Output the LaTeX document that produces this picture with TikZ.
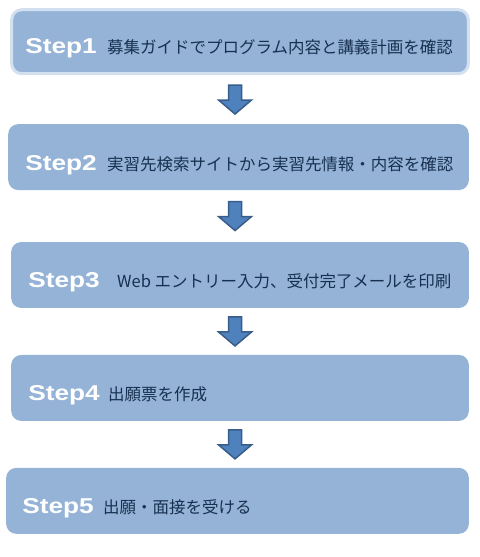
\documentclass[tikz,border=0pt]{standalone}
\usepackage{fontspec}
\usepackage{tikz}
\usepackage{xcolor}
\usetikzlibrary{calc}
\usetikzlibrary{positioning}

\setmainfont{Liberation Sans}
\newfontfamily\jpfont{Noto Sans CJK JP}
\newfontfamily\stepfont{Liberation Sans}[FakeStretch=1.22]

\definecolor{boxblue}{HTML}{95B3D7}
\definecolor{glowblue}{HTML}{D3E0F0}
\definecolor{arrowblue}{HTML}{4F81BD}
\definecolor{arrowedge}{HTML}{385D8A}
\definecolor{textnavy}{HTML}{17304F}

\tikzset{
  stepbox/.style={fill=boxblue, rounded corners=10pt, minimum height=66pt, inner sep=0pt},
  steptitle/.style={anchor=base west, inner sep=0pt, text=white, font=\stepfont\bfseries\fontsize{21.5}{21.5}\selectfont},
  steptext/.style={inner sep=0pt, text=textnavy, font=\jpfont\fontsize{16.5}{16.5}\selectfont},
  downarrow/.style={fill=arrowblue, draw=arrowedge, line width=1.5pt, line join=miter}
}

\begin{document}
\begin{tikzpicture}[x=1pt,y=-1pt]
\draw[opacity=0] (0,0) rectangle (479,557);

\node[stepbox, draw=glowblue, line width=3pt, minimum width=457pt, minimum height=64pt] (s1) at (240,41.5) {};
\node[stepbox, minimum width=461pt] (s2) at (238.5,157) {};
\node[stepbox, minimum width=458pt] (s3) at (240,275) {};
\node[stepbox, minimum width=458pt] (s4) at (240,388) {};
\node[stepbox, minimum width=463pt] (s5) at (237.5,501) {};

\node[steptitle] (t1) at (25,53) {Step1};
\node[steptitle] (t2) at (25,170) {Step2};
\node[steptitle] (t3) at (28,288) {Step3};
\node[steptitle] (t4) at (28,401) {Step4};
\node[steptitle] (t5) at (22,514) {Step5};

\node[steptext, base right=10pt of t1] (j1) {募集ガイドでプログラム内容と講義計画を確認};
\node[steptext, base right=10pt of t2] (j2) {実習先検索サイトから実習先情報・内容を確認};
\node[steptext, base right=17pt of t3] (j3) {Web エントリー入力、受付完了メールを印刷};
\node[steptext, base right=8pt of t4] (j4) {出願票を作成};
\node[steptext, base right=9pt of t5] (j5) {出願・面接を受ける};

\coordinate (ax) at (235,0);
\foreach \a/\b in {s1/s2, s2/s3, s3/s4, s4/s5}{
  \coordinate (m) at ($(ax |- \a.south)!0.5!(ax |- \b.north)$);
  \draw[downarrow] (m) ++(-6.5,-14.5) -- ++(13,0) -- ++(0,15) -- ++(10,0)
    -- ++(-16.5,14) -- ++(-16.5,-14) -- ++(10,0) -- cycle;
}

\end{tikzpicture}
\end{document}
